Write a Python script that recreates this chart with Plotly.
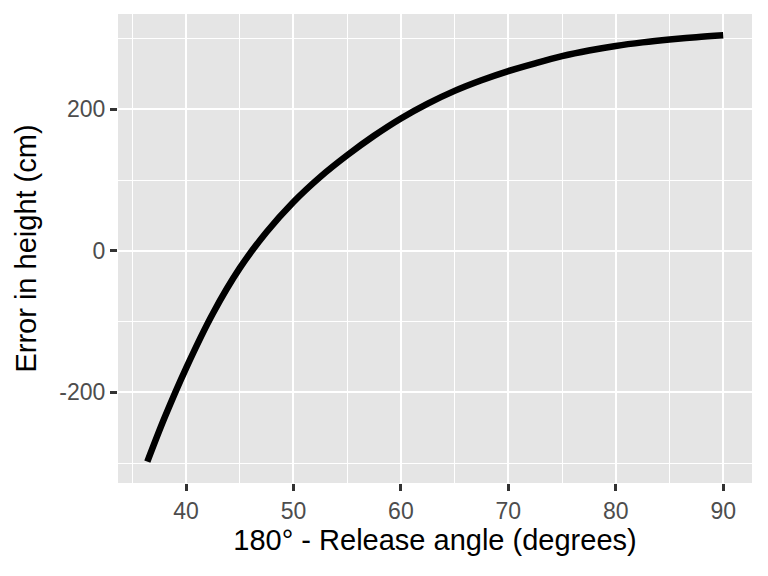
import plotly.graph_objects as go

# Data
release_angle = [36.4, 38, 40, 42.5, 45, 47.5, 50, 52.5, 55, 57.5, 60, 62.5, 65,
                 67.5, 70, 72.5, 75, 77.5, 80, 82.5, 85, 87.5, 90]
height_error = [-298, -236, -166, -88.5, -24.5, 26.5, 69, 104.5, 135, 162.5, 187, 208, 226,
                241, 254, 265, 275, 283, 289.5, 294.5, 298.5, 301.8, 304.5]

x_ticks = [40, 50, 60, 70, 80, 90]
y_ticks = [-200, 0, 200]
y_tick_labels = ["-200", "0", "200"]
x_minor = [35, 45, 55, 65, 75, 85]
y_minor = [-300, -100, 100, 300]

FONT = "Liberation Sans, Arial, Helvetica, sans-serif"

fig = go.Figure()
fig.add_trace(go.Scatter(
    x=release_angle, y=height_error, mode="lines",
    line=dict(color="black", width=6.5, shape="spline", smoothing=1.0),
    showlegend=False, hoverinfo="x+y",
))

axis_common = dict(
    showgrid=True, gridcolor="white", gridwidth=2.2,
    zeroline=False, showline=False, automargin=False,
    ticks="outside", ticklen=7, tickwidth=2.5, tickcolor="#333333",
    tickfont=dict(family=FONT, size=23, color="#4D4D4D"),
)

fig.update_layout(
    width=768, height=576,
    margin=dict(l=118, r=16, t=14, b=93),
    paper_bgcolor="white", plot_bgcolor="#E5E5E5",
    font=dict(family=FONT, color="black"),
    xaxis=dict(
        axis_common, range=[33.67, 92.68], tickvals=x_ticks,
        title=dict(text="180° - Release angle (degrees)",
                   font=dict(family=FONT, size=29, color="black"), standoff=6),
        minor=dict(showgrid=True, gridcolor="white", gridwidth=1.1, ticks="",
                   tickvals=x_minor),
    ),
    yaxis=dict(
        axis_common, range=[-328.1, 334.6], tickvals=y_ticks, ticktext=y_tick_labels,
        title=dict(text="Error in height (cm)",
                   font=dict(family=FONT, size=29, color="black"), standoff=14),
        minor=dict(showgrid=True, gridcolor="white", gridwidth=1.1, ticks="",
                   tickvals=y_minor),
    ),
)

fig.write_html("out.html",
               config={"displayModeBar": False},
               post_script="document.body.style.margin='0px';document.body.style.overflow='hidden';")
